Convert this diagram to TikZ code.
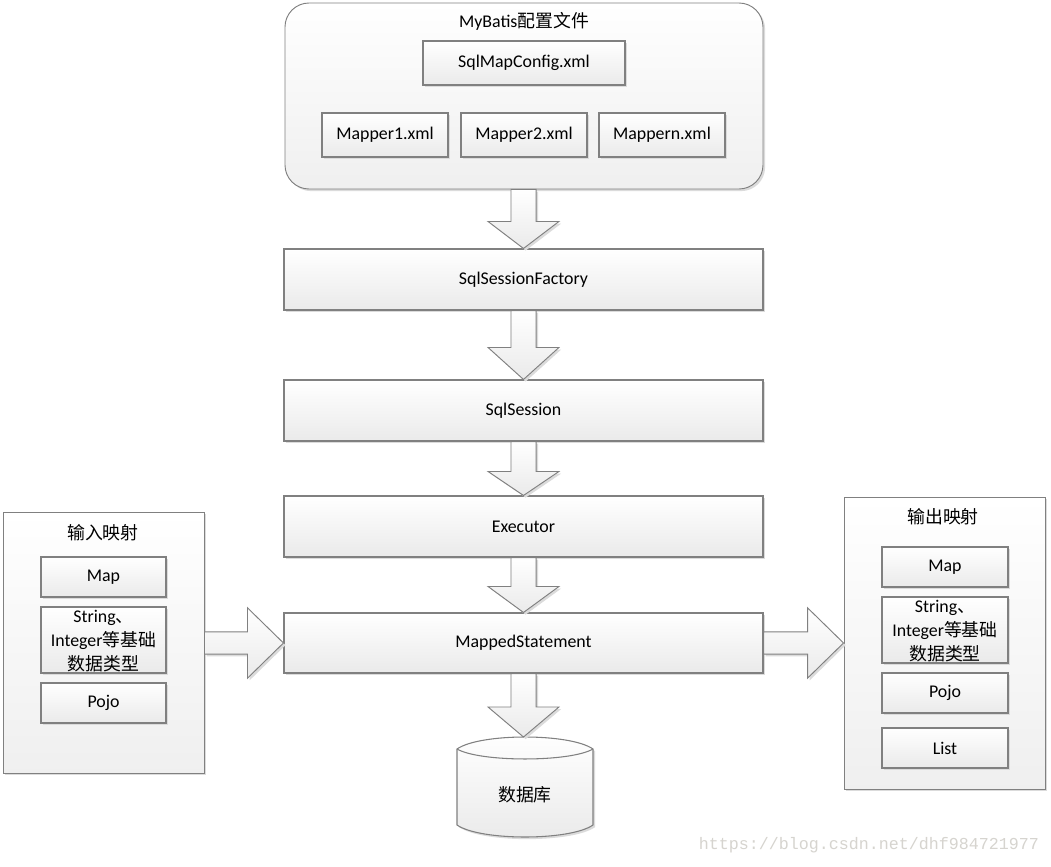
\documentclass[tikz,border=0pt]{standalone}
\usepackage{fontspec}
\setmainfont{Carlito}
\newfontfamily\cjk{Noto Sans CJK SC}
\newfontfamily\wmfont{Liberation Mono}
\usetikzlibrary{shadows,calc}
\definecolor{bord}{HTML}{808080}
\definecolor{shadefill}{HTML}{EAEAEA}
\definecolor{wm}{HTML}{D6D4CF}
\newcommand{\varrow}[3]{%
  \path[blockarrow] let \p1=(#1), \p2=(#2) in
    (\x2-9.4pt,\y1) -- (\x2+9.4pt,\y1) -- (\x2+9.4pt,\y2+#3*0.75pt) --
    (\x2+26.6pt,\y2+#3*0.75pt) -- (\x2,\y2) -- (\x2-26.6pt,\y2+#3*0.75pt) --
    (\x2-9.4pt,\y2+#3*0.75pt) -- cycle;}
\newcommand{\harrow}[3]{%
  \path[blockarrow] let \p1=(#1), \p2=(#2) in
    (\x1,\y2+8.4pt) -- (\x2-#3*0.75pt,\y2+8.4pt) -- (\x2-#3*0.75pt,\y2+26.4pt) --
    (\x2,\y2) -- (\x2-#3*0.75pt,\y2-26.4pt) -- (\x2-#3*0.75pt,\y2-8.4pt) --
    (\x1,\y2-8.4pt) -- cycle;}
\begin{document}
\begin{tikzpicture}[x=0.75pt,y=-0.75pt,
  every node/.style={font=\fontsize{13.4}{15}\selectfont, align=center, inner sep=0pt},
  tall/.style={font=\fontsize{13.4}{18}\selectfont},
  sh/.style={drop shadow={shadow xshift=1.6pt, shadow yshift=-1.6pt, fill=black!14, opacity=1}},
  box/.style={draw=bord, line width=0.8pt, top color=white, bottom color=shadefill, sh},
  container/.style={draw=bord, line width=0.7pt, top color=white, bottom color=shadefill!75, sh},
  blockarrow/.style={draw=bord, line width=0.7pt, top color=white, bottom color=shadefill, sh, line join=miter}]
\useasboundingbox[fill=white] (0,0) rectangle (1051,867);

% top container
\node[container, rounded corners=18pt, minimum width=358.5pt, minimum height=139.5pt] (cfg) at (524,96) {};
\node (cfgtitle) at (524,21) {MyBatis{\cjk 配置文件}};
\node[box, minimum width=151.5pt, minimum height=33pt] (smc) at (524,63) {SqlMapConfig.xml};
\node[box, minimum width=94.5pt, minimum height=33pt] (m1) at (385,135) {Mapper1.xml};
\node[box, minimum width=94.5pt, minimum height=33pt] (m2) at (524,135) {Mapper2.xml};
\node[box, minimum width=94.5pt, minimum height=33pt] (mn) at (662,135) {Mappern.xml};

% main chain
\node[box, minimum width=359.25pt, minimum height=45.75pt] (ssf) at (523.5,279.5) {SqlSessionFactory};
\node[box, minimum width=359.25pt, minimum height=45.75pt] (ss) at (523.5,410.5) {SqlSession};
\node[box, minimum width=359.25pt, minimum height=45.75pt] (ex) at (523.5,526.5) {Executor};
\node[box, minimum width=359.25pt, minimum height=45pt] (ms) at (523.5,643) {MappedStatement};

% database
\path[box] (457,749) .. controls (480,733) and (570,733) .. (593,749) -- (593,825)
  .. controls (570,841) and (480,841) .. (457,825) -- cycle;
\draw[bord, line width=0.8pt] (457,749) .. controls (480,762.3) and (570,762.3) .. (593,749);
\coordinate (dbtop) at (523.5,737);
\node (db) at (525,795) {\cjk 数据库};

% input mapping
\node[container, minimum width=150.75pt, minimum height=195.75pt] (inbox) at (103.5,642.5) {};
\node (intitle) at (103,533) {\cjk 输入映射};
\node[box, minimum width=93.75pt, minimum height=30pt] (inmap) at (103.5,577) {Map};
\node[box, minimum width=93.75pt, minimum height=49.5pt] (instr) at (103.5,640) {};
\node[tall] (instrtext) at (103.5,641) {String{\cjk 、}\\Integer{\cjk 等基础}\\{\cjk 数据类型}};
\node[box, minimum width=93.75pt, minimum height=30pt] (inpojo) at (103.5,703) {Pojo};

% output mapping
\node[container, minimum width=150.75pt, minimum height=219pt] (outbox) at (944.5,643) {};
\node (outtitle) at (943,517) {\cjk 输出映射};
\node[box, minimum width=94.5pt, minimum height=30pt] (outmap) at (945,567) {Map};
\node[box, minimum width=94.5pt, minimum height=49.5pt] (outstr) at (945,630) {};
\node[tall] (outstrtext) at (945,631) {String{\cjk 、}\\Integer{\cjk 等基础}\\{\cjk 数据类型}};
\node[box, minimum width=94.5pt, minimum height=30pt] (outpojo) at (945,693) {Pojo};
\node[box, minimum width=94.5pt, minimum height=30pt] (outlist) at (945,748) {List};

% block arrows
\varrow{cfg.south}{ssf.north}{27}
\varrow{ssf.south}{ss.north}{32}
\varrow{ss.south}{ex.north}{24}
\varrow{ex.south}{ms.north}{26}
\varrow{ms.south}{dbtop}{30}
\harrow{inbox.east}{ms.west}{36}
\harrow{ms.east}{outbox.west}{36}

% watermark
\node[font=\wmfont\fontsize{12.5}{14}\selectfont, text=wm] (wmk) at (869,845) {https://blog.csdn.net/dhf984721977};
\end{tikzpicture}
\end{document}
